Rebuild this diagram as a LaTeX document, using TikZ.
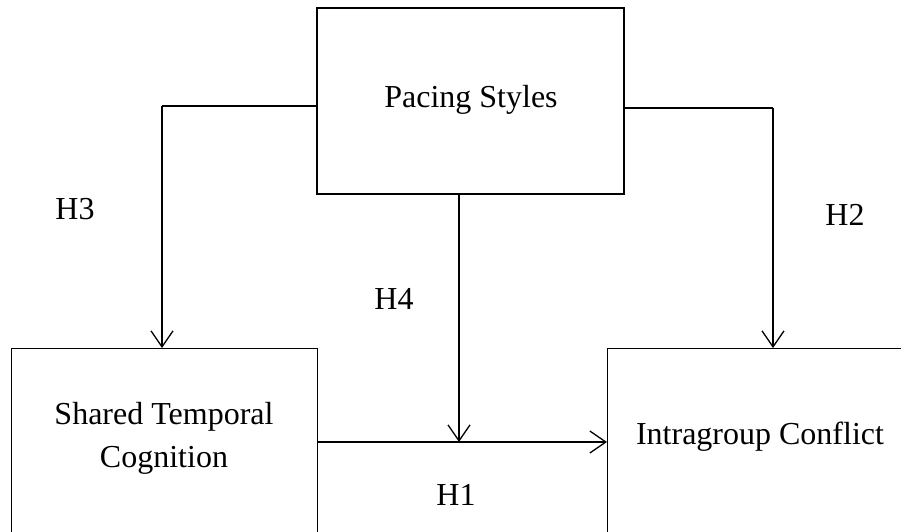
\documentclass[tikz,border=0pt]{standalone}
\usepackage{fontspec}
\setmainfont{Liberation Serif}
\usetikzlibrary{arrows.meta}
\begin{document}
\begin{tikzpicture}[x=1pt,y=-1pt,
  box/.style={draw, line width=1.1pt, inner sep=0pt, minimum width=#1},
  lbl/.style={font=\fontsize{32}{43}\selectfont, inner sep=0pt, align=center},
  arr/.style={line width=1.3pt, -{Straight Barb[length=16pt,width=22pt,line width=1.3pt]}},
  ln/.style={line width=1.3pt}]
\useasboundingbox (0,0) rectangle (901,531);
\clip (0,0) rectangle (901,531);
\fill[white] (0,0) rectangle (901,531);
% boxes
\node[box=307pt, minimum height=186pt] (ps) at (470.5,101) {};
\node[box=306pt, minimum height=260pt, anchor=north west] (stc) at (11,348) {};
\node[box=320pt, minimum height=260pt, anchor=north west] (ic) at (607,348) {};
% texts
\node[lbl] (pst) at (471,100) {Pacing Styles};
\node[lbl] (stct) at (164,438) {Shared Temporal\\Cognition};
\node[lbl] (ict) at (760,437) {Intragroup Conflict};
% connector bends
\coordinate (k3) at (162,106);
\coordinate (k2) at (773,108);
\coordinate (j1) at (459,442);
% connectors
\draw[ln] (ps.west |- k3) -- (k3);
\draw[arr] (k3) -- (k3 |- stc.north);
\draw[ln] (ps.east |- k2) -- (k2);
\draw[arr] (k2) -- (k2 |- ic.north);
\draw[arr] (ps.south -| j1) -- (j1);
\draw[arr] (stc.east |- j1) -- (ic.west |- j1);
% hypothesis labels
\node[lbl] (h3) at (75,209) {H3};
\node[lbl] (h2) at (845,215) {H2};
\node[lbl] (h4) at (394,299) {H4};
\node[lbl] (h1) at (456,495) {H1};
\end{tikzpicture}
\end{document}
